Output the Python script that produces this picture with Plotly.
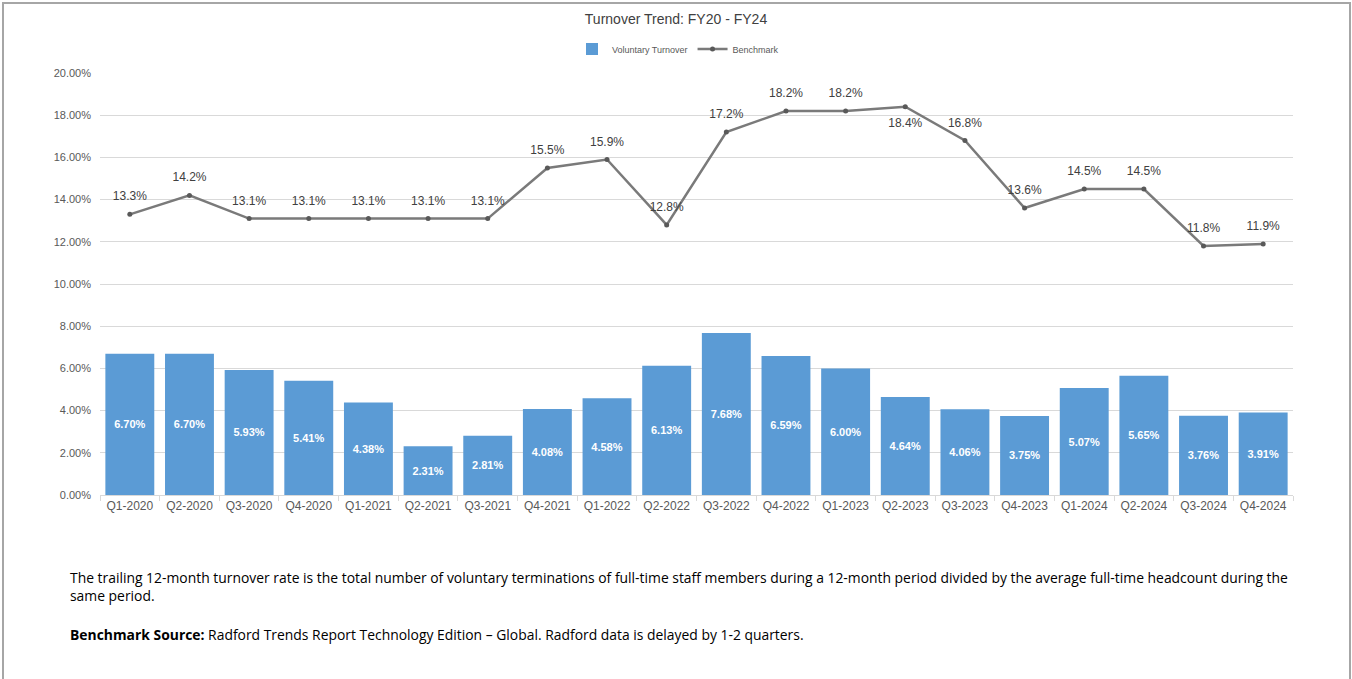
import plotly.graph_objects as go

quarters = ["Q1-2020", "Q2-2020", "Q3-2020", "Q4-2020", "Q1-2021", "Q2-2021", "Q3-2021", "Q4-2021",
            "Q1-2022", "Q2-2022", "Q3-2022", "Q4-2022", "Q1-2023", "Q2-2023", "Q3-2023", "Q4-2023",
            "Q1-2024", "Q2-2024", "Q3-2024", "Q4-2024"]
voluntary = [6.70, 6.70, 5.93, 5.41, 4.38, 2.31, 2.81, 4.08, 4.58, 6.13,
             7.68, 6.59, 6.00, 4.64, 4.06, 3.75, 5.07, 5.65, 3.76, 3.91]
benchmark = [13.3, 14.2, 13.1, 13.1, 13.1, 13.1, 13.1, 15.5, 15.9, 12.8,
             17.2, 18.2, 18.2, 18.4, 16.8, 13.6, 14.5, 14.5, 11.8, 11.9]
yticks = [0, 2, 4, 6, 8, 10, 12, 14, 16, 18, 20]

FONT = "Liberation Sans"
W, H = 1352, 679
L, R, T, B = 100, 59, 73, 184
PW, PH = W - L - R, H - T - B

def px(x):
    return (x - L) / PW

def py(y):
    return (H - B - y) / PH

line_pos = ["top center"] * len(benchmark)
line_pos[13] = "bottom center"

fig = go.Figure()
fig.add_trace(go.Bar(
    x=quarters, y=voluntary, name="Voluntary Turnover",
    marker=dict(color="#5b9bd5", line=dict(width=0)),
    text=[f"{v:.2f}%" for v in voluntary],
    textposition="inside", insidetextanchor="middle", textangle=0,
    textfont=dict(family=FONT, size=11, color="white", weight="bold"),
    hoverinfo="skip",
))
fig.add_trace(go.Scatter(
    x=quarters, y=benchmark, name="Benchmark", mode="lines+markers",
    line=dict(color="#7a7a7a", width=2.5),
    marker=dict(color="#595959", size=5),
    cliponaxis=False,
))
fig.add_trace(go.Scatter(
    x=quarters, y=benchmark, mode="markers+text", showlegend=False,
    marker=dict(color="rgba(0,0,0,0)", size=16),
    text=[f"{v:.1f}%" for v in benchmark],
    textposition=line_pos,
    textfont=dict(family=FONT, size=12, color="#404040"),
    cliponaxis=False, hoverinfo="skip",
))

fig.update_layout(
    width=W, height=H,
    margin=dict(l=L, r=R, t=T, b=B),
    paper_bgcolor="white", plot_bgcolor="white",
    font=dict(family=FONT, color="#595959"),
    bargap=0.18,
    showlegend=True,
    legend=dict(orientation="h", x=px(678), xanchor="center", y=py(49), yanchor="middle",
                font=dict(size=9, color="#595959"), itemwidth=30, traceorder="normal"),
    title=dict(text="Turnover Trend: FY20 - FY24", x=px(676), xanchor="center", xref="paper",
               y=1 - 19 / H, yanchor="middle",
               font=dict(family=FONT, size=14, color="#404040")),
    xaxis=dict(
        tickfont=dict(size=12, color="#595959"),
        showgrid=False, showline=True, linecolor="#d9d9d9", linewidth=1,
        ticks="outside", tickson="boundaries", ticklen=5, tickcolor="#d9d9d9",
        range=[-0.5, len(quarters) - 0.5],
    ),
    yaxis=dict(
        range=[0, 20], tickvals=yticks,
        ticktext=[f"{v:.2f}%" for v in yticks],
        tickfont=dict(size=11, color="#595959"),
        showgrid=True, gridcolor="#d9d9d9", gridwidth=1,
        zeroline=False, showline=False, ticklabelstandoff=8,
    ),
)

fig.add_annotation(
    x=px(69), y=py(586), xref="paper", yref="paper", xanchor="left", yanchor="middle",
    align="left", showarrow=False, borderpad=0,
    text=("The trailing 12-month turnover rate is the total number of voluntary terminations of full-time staff members "
          "during a 12-month period divided by the average full-time headcount during the<br>same period."),
    font=dict(family="Open Sans", size=13.9, color="#000000"),
)
fig.add_annotation(
    x=px(69), y=py(634), xref="paper", yref="paper", xanchor="left", yanchor="middle",
    align="left", showarrow=False, borderpad=0,
    text=("<b>Benchmark Source:</b> Radford Trends Report Technology Edition \u2013 Global. "
          "Radford data is delayed by 1-2 quarters."),
    font=dict(family="Open Sans", size=13.9, color="#000000"),
)

fig.add_shape(type="rect", xref="paper", yref="paper",
              x0=px(3), x1=px(1350), y0=py(3), y1=py(700),
              line=dict(color="#a6a6a6", width=2), fillcolor="rgba(0,0,0,0)", layer="above")

fig.write_html("out.html", config={"displayModeBar": False},
               post_script="document.body.style.margin='0px';")
